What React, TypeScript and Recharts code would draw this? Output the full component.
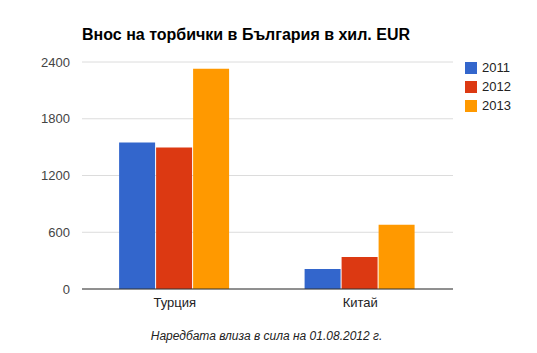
import { BarChart, Bar, XAxis, YAxis, CartesianGrid } from 'recharts';

const countries = ['Турция', 'Китай'];
const values2011 = [1550, 212];
const values2012 = [1497, 339];
const values2013 = [2328, 680];
const years = ['2011', '2012', '2013'];
const yTicks = [0, 600, 1200, 1800, 2400];

const COLORS = ['#3366cc', '#dc3912', '#ff9900'];

const data = countries.map((name, i) => ({
  name,
  '2011': values2011[i],
  '2012': values2012[i],
  '2013': values2013[i],
}));

const font = 'Arial, "Liberation Sans", sans-serif';

const LegendBox = () => (
  <div style={{ position: 'absolute', left: 465, top: 58, fontFamily: font, fontSize: 13, color: '#222' }}>
    {years.map((y, i) => (
      <div key={y} style={{ display: 'flex', alignItems: 'center', height: 19 }}>
        <span style={{ width: 12, height: 12, background: COLORS[i], display: 'inline-block', marginRight: 5 }} />
        <span>{y}</span>
      </div>
    ))}
  </div>
);

export default function App() {
  return (
    <div style={{ position: 'absolute', left: 0, top: 0, width: 537, height: 353, background: '#fff', fontFamily: font }}>
      <div style={{ position: 'absolute', left: 82, top: 26, fontSize: 16, fontWeight: 'bold', color: '#000' }}>
        Внос на торбички в България в хил. EUR
      </div>
      <BarChart
        width={537}
        height={353}
        data={data}
        margin={{ top: 62, right: 84, bottom: 34, left: 0 }}
        barGap={1}
        barCategoryGap="20%"
      >
        <CartesianGrid vertical={false} stroke="#dcdcdc" />
        <XAxis
          dataKey="name"
          height={30}
          axisLine={{ stroke: '#333' }}
          tickLine={false}
          tick={{ fill: '#222', fontSize: 13, fontFamily: font }}
          tickMargin={3}
        />
        <YAxis
          width={82}
          domain={[0, 2400]}
          ticks={yTicks}
          axisLine={false}
          tickLine={false}
          tick={{ fill: '#444', fontSize: 13, fontFamily: font }}
          tickMargin={6}
        />
        {years.map((y, i) => (
          <Bar key={y} dataKey={y} fill={COLORS[i]} isAnimationActive={false} />
        ))}
      </BarChart>
      <LegendBox />
      <div style={{ position: 'absolute', left: 0, width: 533, top: 329, textAlign: 'center', fontSize: 12, fontStyle: 'italic', color: '#222' }}>
        Наредбата влиза в сила на 01.08.2012 г.
      </div>
    </div>
  );
}
